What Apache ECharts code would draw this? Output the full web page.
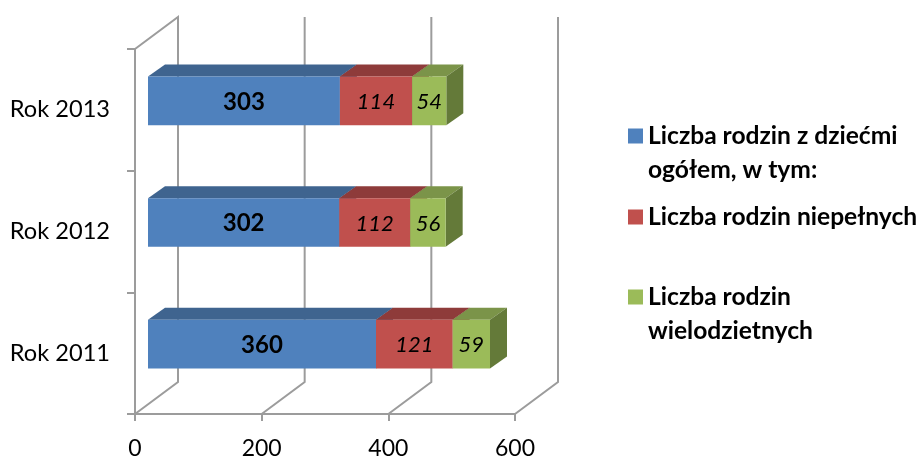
<!DOCTYPE html>
<html>
<head>
<meta charset="utf-8">
<style>html,body{margin:0;padding:0;background:#fff}#c{width:921px;height:457px}</style>
<script src="https://cdn.jsdelivr.net/npm/echarts@6/dist/echarts.min.js"></script>
</head>
<body>
<div id="c"></div>
<script>
const categories = ['Rok 2011', 'Rok 2012', 'Rok 2013'];
const seriesNames = ['Liczba rodzin z dziećmi ogółem, w tym:', 'Liczba rodzin niepełnych', 'Liczba rodzin wielodzietnych'];
const legendLines = [['Liczba rodzin z dziećmi', 'ogółem, w tym:'], ['Liczba rodzin niepełnych'], ['Liczba rodzin', 'wielodzietnych']];
const ogolem = [360, 302, 303];
const niepelne = [121, 112, 114];
const wielodzietne = [59, 56, 54];
const xTicks = [0, 200, 400, 600];

const FONT = 'Lato';
const GRID = '#9C9C9C';
const WALL = { dx: 43, dy: -32 };
const BAR = { ox: 13, oy: -9, dx: 17, dy: -12, ratio: 0.4 };
const palettes = [
  { front: '#4F81BD', top: '#3F648F', side: '#3A5C85' },
  { front: '#C0504D', top: '#8E3B3A', side: '#7F3534' },
  { front: '#9BBB59', top: '#7B9449', side: '#647A39' }
];
const labelStyles = [
  { fontWeight: 'bold', fontStyle: 'normal' },
  { fontWeight: 'normal', fontStyle: 'italic' },
  { fontWeight: 'normal', fontStyle: 'italic' }
];

const values = [ogolem, niepelne, wielodzietne];

function barRender(si) {
  return function (params, api) {
    const start = api.value(0), end = api.value(1), cat = api.value(2);
    const a = api.coord([start, cat]), b = api.coord([end, cat]);
    const h = api.size([0, 1])[1] * BAR.ratio;
    const x0 = a[0] + BAR.ox, x1 = b[0] + BAR.ox;
    const yT = a[1] + BAR.oy - h / 2, yB = yT + h;
    const pal = palettes[si];
    const children = [
      { type: 'polygon', shape: { points: [[x0, yT], [x1, yT], [x1 + BAR.dx, yT + BAR.dy], [x0 + BAR.dx, yT + BAR.dy]] }, style: { fill: pal.top } },
      { type: 'polygon', shape: { points: [[x1, yT], [x1 + BAR.dx, yT + BAR.dy], [x1 + BAR.dx, yB + BAR.dy], [x1, yB]] }, style: { fill: pal.side } },
      { type: 'rect', shape: { x: x0, y: yT, width: x1 - x0, height: h }, style: { fill: pal.front } },
      { type: 'text', z2: 10, style: {
          x: (x0 + x1) / 2, y: (yT + yB) / 2 + 1, text: String(end - start), fill: '#000',
          align: 'center', verticalAlign: 'middle', font: labelStyles[si].fontStyle + ' ' + labelStyles[si].fontWeight + ' ' + (si === 0 ? 24 : 22) + 'px ' + FONT
      } }
    ];
    return { type: 'group', children };
  };
}

const barSeries = seriesNames.map((name, si) => ({
  name,
  type: 'custom',
  coordinateSystem: 'cartesian2d',
  itemStyle: { color: palettes[si].front },
  encode: { x: [0, 1], y: 2 },
  z: 5 + si,
  silent: true,
  renderItem: barRender(si),
  data: categories.map((c, ci) => {
    let s = 0;
    for (let k = 0; k < si; k++) s += values[k][ci];
    return [s, s + values[si][ci], ci];
  })
}));

const wallSeries = {
  type: 'custom',
  coordinateSystem: 'cartesian2d',
  z: 1,
  silent: true,
  encode: { x: 0 },
  renderItem(params, api) {
    const v = api.value(0);
    const x = api.coord([v, 0])[0];
    const top = params.coordSys.y, bottom = top + params.coordSys.height;
    const st = { stroke: GRID, lineWidth: 2, fill: null };
    const pts = v === 0
      ? [[x, top], [x + WALL.dx, top + WALL.dy], [x + WALL.dx, bottom + WALL.dy], [x, bottom]]
      : [[x + WALL.dx, top + WALL.dy], [x + WALL.dx, bottom + WALL.dy], [x, bottom]];
    return { type: 'polyline', shape: { points: pts }, style: st };
  },
  data: xTicks.map(v => [v, 0])
};

const legends = seriesNames.map((name, i) => ({
  data: [{ name, icon: 'rect' }],
  orient: 'vertical',
  left: 628,
  top: [85, 200, 246][i],
  itemWidth: 15,
  itemHeight: 15,
  itemGap: 0,
  padding: 0,
  selectedMode: false,
  formatter: () => (legendLines[i].length > 1 ? ' \n' : '') + legendLines[i].join('\n'),
  textStyle: {
    fontFamily: FONT, fontWeight: 'bold', fontSize: 24.6, color: '#000', lineHeight: 34
  }
}));

const chart = echarts.init(document.getElementById('c'), null, { renderer: 'canvas' });
chart.setOption({
  animation: false,
  backgroundColor: '#fff',
  legend: legends,
  grid: { left: 135, top: 49, width: 380, height: 365, containLabel: false, outerBoundsMode: 'none' },
  xAxis: {
    type: 'value', min: 0, max: 600, interval: 200,
    splitLine: { show: false },
    axisLine: { show: true, lineStyle: { color: GRID, width: 2 } },
    axisTick: { show: true, length: 7, lineStyle: { color: GRID, width: 2 } },
    axisLabel: { fontFamily: FONT, fontSize: 23, color: '#000', margin: 23 }
  },
  yAxis: {
    type: 'category', data: categories,
    axisLine: { show: true, lineStyle: { color: GRID, width: 2 } },
    axisTick: { show: true, length: 8, lineStyle: { color: GRID, width: 2 } },
    axisLabel: { fontFamily: FONT, fontSize: 23.6, color: '#000', margin: 25, padding: [3, 0, 0, 0] }
  },
  series: [wallSeries].concat(barSeries)
});
</script>
</body>
</html>
